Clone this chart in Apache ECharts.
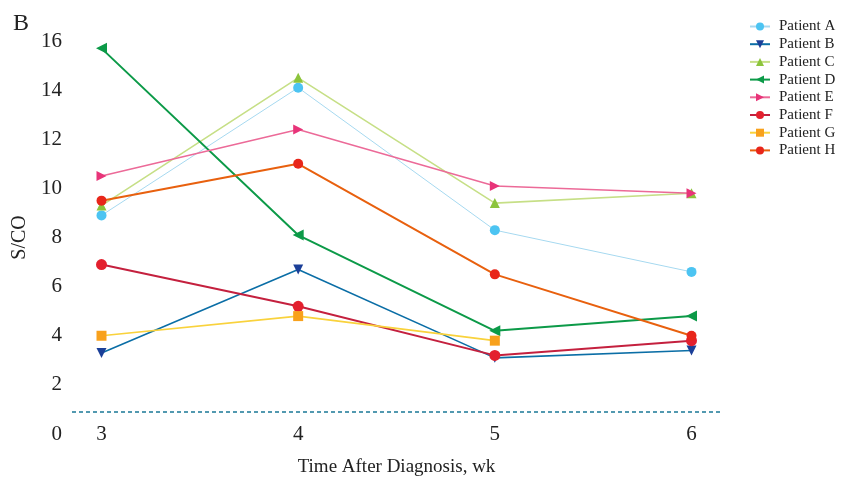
<!DOCTYPE html>
<html lang="en">
<head>
    <meta charset="utf-8"/>
    <script src="https://cdn.jsdelivr.net/npm/echarts@6/dist/echarts.min.js"></script>
</head>
<body style="margin: 0">
<div id="container" style="width: 843px;height:479px;"></div>
<script type="text/javascript">
    var weeks = [3, 4, 5, 6];
    var yTicks = [0, 2, 4, 6, 8, 10, 12, 14, 16];
    var cutoff = 0.9;

    var patientA = [8.9, 14.1, 8.3, 6.6];
    var patientB = [3.3, 6.7, 3.1, 3.4];
    var patientC = [9.3, 14.5, 9.4, 9.8];
    var patientD = [15.7, 8.1, 4.2, 4.8];
    var patientE = [10.5, 12.4, 10.1, 9.8];
    var patientF = [6.9, 5.2, 3.2, 3.8];
    var patientG = [4.0, 4.8, 3.8, null];
    var patientH = [9.5, 11.0, 6.5, 4.0];

    var serif = 'Liberation Serif';

    function pts(vals) {
        return weeks.map(function (w, i) { return [w, vals[i]]; });
    }

    function patient(name, vals, dot, line, symbol, rotate, width, size) {
        return {
            name: name,
            type: 'line',
            data: pts(vals),
            symbol: symbol,
            symbolRotate: rotate,
            symbolSize: size,
            itemStyle: {color: dot},
            lineStyle: {color: line, width: width},
            z: 3
        };
    }

    var myChart = echarts.init(document.getElementById('container'));

    var option = {
        animation: false,
        title: {
            text: 'B',
            left: 8,
            top: 7,
            textStyle: {fontFamily: serif, fontSize: 24, fontWeight: 'normal', color: '#222'}
        },
        legend: {
            orient: 'vertical',
            left: 744,
            top: 14,
            itemWidth: 20,
            itemHeight: 10,
            itemGap: 2.7,
            textStyle: {fontFamily: serif, fontSize: 15, lineHeight: 15, color: '#222', padding: [0, 0, 0, 4]},
            data: ['Patient A', 'Patient B', 'Patient C', 'Patient D', 'Patient E', 'Patient F', 'Patient G', 'Patient H']
        },
        grid: {left: 72, right: 122, top: 41, bottom: 45, outerBoundsMode: 'none'},
        xAxis: {
            type: 'value',
            min: 2.85,
            max: 6.15,
            name: 'Time After Diagnosis, wk',
            nameLocation: 'middle',
            nameGap: 24,
            nameTextStyle: {fontFamily: serif, fontSize: 19, color: '#222'},
            axisLine: {show: false},
            axisTick: {show: false},
            splitLine: {show: false},
            axisLabel: {
                customValues: weeks,
                margin: 0,
                verticalAlign: 'middle',
                fontFamily: serif,
                fontSize: 21,
                color: '#222'
            }
        },
        yAxis: {
            type: 'value',
            min: 0,
            max: 16,
            interval: 2,
            name: 'S/CO',
            nameLocation: 'middle',
            nameGap: 32,
            nameTextStyle: {fontFamily: serif, fontSize: 20, color: '#222'},
            axisLine: {show: false},
            axisTick: {show: false},
            splitLine: {show: false},
            axisLabel: {
                customValues: yTicks,
                margin: 10,
                fontFamily: serif,
                fontSize: 21,
                color: '#222'
            }
        },
        series: [
            {
                name: 'cutoff',
                type: 'line',
                data: [[2.85, cutoff], [6.15, cutoff]],
                symbol: 'none',
                silent: true,
                lineStyle: {color: '#1a7896', width: 1.5, type: [4, 3]},
                z: 1
            },
            patient('Patient A', patientA, '#4cc4f2', '#a6d9f0', 'circle', 0, 1, 10),
            patient('Patient B', patientB, '#1b3f98', '#0b6ea6', 'triangle', 180, 1.6, 10),
            patient('Patient C', patientC, '#8cc43c', '#c6df86', 'triangle', 0, 1.6, 10),
            patient('Patient D', patientD, '#0c9a48', '#0c9a48', 'triangle', 90, 2, 11),
            patient('Patient E', patientE, '#e83479', '#ec6a98', 'triangle', -90, 1.5, 10),
            patient('Patient F', patientF, '#e3202e', '#c4203e', 'circle', 0, 2, 11),
            patient('Patient G', patientG, '#f8a11c', '#f9d23c', 'rect', 0, 1.6, 10),
            patient('Patient H', patientH, '#e8261a', '#e8600e', 'circle', 0, 2, 10)
        ]
    };

    myChart.setOption(option);
</script>
</body>
</html>
